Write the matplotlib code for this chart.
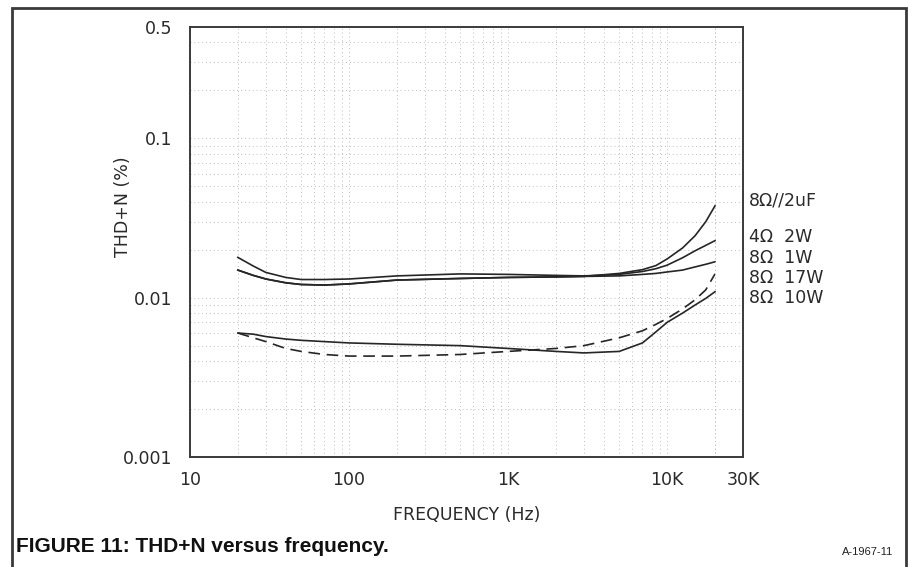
import matplotlib
matplotlib.use("Agg")
import matplotlib.pyplot as plt
from matplotlib.patches import Rectangle
from matplotlib.ticker import FixedLocator, NullFormatter

# frequency points (Hz)
freq = [20, 25, 30, 40, 50, 70, 100, 200, 500, 1000, 2000, 3000, 5000,
        7000, 8500, 10000, 12500, 15000, 17500, 20000]

# THD+N (%) per load condition
thd_2uf = [0.0149, 0.0138, 0.0131, 0.0124, 0.0121, 0.0120, 0.0122, 0.0129,
           0.0132, 0.0134, 0.0135, 0.0136, 0.0142, 0.0150, 0.0159, 0.0175,
           0.0205, 0.0245, 0.0300, 0.0377]
thd_4r2w = [0.0179, 0.0158, 0.0144, 0.0134, 0.0130, 0.0130, 0.0131, 0.0137,
            0.0141, 0.0140, 0.0138, 0.0137, 0.0140, 0.0146, 0.0152, 0.0160,
            0.0178, 0.0197, 0.0213, 0.0228]
thd_8r1w = [0.0149, 0.0138, 0.0131, 0.0124, 0.0121, 0.0120, 0.0122, 0.0129,
            0.0132, 0.0134, 0.0135, 0.0136, 0.0137, 0.0140, 0.0142, 0.0145,
            0.0149, 0.0156, 0.0162, 0.0168]
thd_8r17w = [0.0060, 0.0056, 0.0053, 0.0048, 0.0046, 0.0044, 0.0043, 0.0043,
             0.0044, 0.0046, 0.0048, 0.0050, 0.0056, 0.0062, 0.0068, 0.0074,
             0.0085, 0.0097, 0.0112, 0.0141]
thd_8r10w = [0.0060, 0.0059, 0.0057, 0.0055, 0.0054, 0.0053, 0.0052, 0.0051,
             0.0050, 0.0048, 0.0046, 0.0045, 0.0046, 0.0052, 0.0061, 0.0070,
             0.0080, 0.0090, 0.0099, 0.0109]

x_ticks = [10, 100, 1000, 10000, 30000]
x_tick_labels = ['10', '100', '1K', '10K', '30K']
y_ticks = [0.001, 0.01, 0.1, 0.5]
y_tick_labels = ['0.001', '0.01', '0.1', '0.5']
curve_labels = ['8\u03a9//2uF', '4\u03a9  2W', '8\u03a9  1W', '8\u03a9  17W', '8\u03a9  10W']

W, H = 909, 567
txt_c = '#2a2a2a'
line_c = '#262626'

fig = plt.figure(figsize=(W / 100, H / 100), dpi=100)
ax = fig.add_axes([190 / W, 110 / H, 553 / W, 430 / H])

ax.plot(freq, thd_2uf, c=line_c, lw=1.2)
ax.plot(freq, thd_4r2w, c=line_c, lw=1.2)
ax.plot(freq, thd_8r1w, c=line_c, lw=1.2)
ax.plot(freq, thd_8r17w, c=line_c, lw=1.2, ls=(0, (7, 4)))
ax.plot(freq, thd_8r10w, c=line_c, lw=1.2)

ax.set_xscale('log')
ax.set_yscale('log')
ax.set_xlim(10, 30000)
ax.set_ylim(0.001, 0.5)

ax.xaxis.set_major_locator(FixedLocator(x_ticks))
ax.set_xticklabels(x_tick_labels)
ax.yaxis.set_major_locator(FixedLocator(y_ticks))
ax.set_yticklabels(y_tick_labels)
ax.xaxis.set_minor_formatter(NullFormatter())
ax.yaxis.set_minor_formatter(NullFormatter())

ax.tick_params(which='both', length=0, colors=txt_c, labelsize=12.5)
ax.tick_params(axis='x', pad=10)
ax.tick_params(axis='y', pad=13)

# dotted grid on every decade subdivision
ax.grid(which='both', ls=(0, (1, 3)), color='#bdbdbd', lw=0.7)
# the 20K line is drawn too in the reference
ax.axvline(20000, ls=(0, (1, 3)), color='#bdbdbd', lw=0.7)

for s in ax.spines.values():
    s.set_color('#3a3a3a')
    s.set_linewidth(1.4)

ax.set_xlabel('FREQUENCY (Hz)', fontsize=12.5, color=txt_c, labelpad=12)
fig.text(123 / W, 1 - 207 / H, 'THD+N (%)', rotation=90, fontsize=12.5,
         color=txt_c, ha='center', va='center')

label_y = [201, 237, 258, 278, 298]
for lab, y in zip(curve_labels, label_y):
    fig.text(749 / W, 1 - y / H, lab, fontsize=12.5, color=txt_c,
             ha='left', va='center')

fig.text(16 / W, 1 - 547 / H, 'FIGURE 11: THD+N versus frequency.',
         fontsize=15, fontweight='bold', color='#111111', ha='left',
         va='center',
         family=['Liberation Sans Narrow', 'Liberation Sans', 'DejaVu Sans'])
fig.text(893 / W, 1 - 552 / H, 'A-1967-11', fontsize=8, color='#222222',
         ha='right', va='center', family=['Liberation Sans', 'DejaVu Sans'])

# outer frame, open at the bottom like the clipped reference
fig.add_artist(Rectangle((12 / W, -0.1), (906 - 12) / W, 1.1 - 8 / H,
                         transform=fig.transFigure, fill=False,
                         ec='#3a3a3a', lw=2))

fig.savefig('out.png', dpi=100)
